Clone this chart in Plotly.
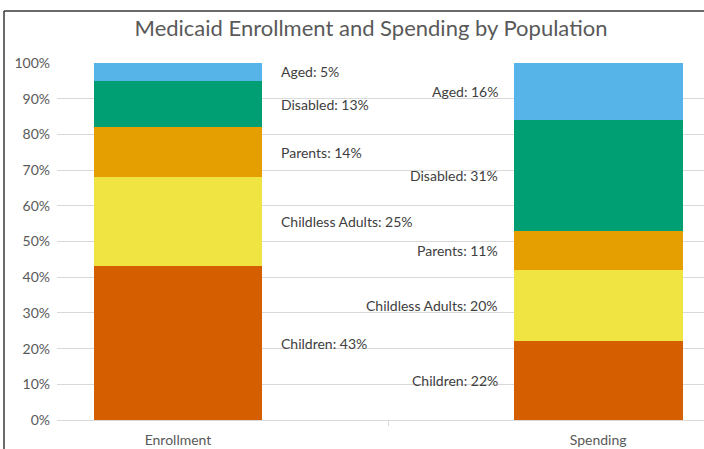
import plotly.graph_objects as go

categories = ["Enrollment", "Spending"]
groups = ["Children", "Childless Adults", "Parents", "Disabled", "Aged"]
enrollment = [43, 25, 14, 13, 5]
spending = [22, 20, 11, 31, 16]
colors = ["#D55E00", "#F0E442", "#E69F00", "#009E73", "#56B4E9"]

FONT = "Lato, Open Sans, sans-serif"

fig = go.Figure()
for i, g in enumerate(groups):
    fig.add_trace(go.Bar(
        x=categories, y=[enrollment[i] / 100, spending[i] / 100],
        name=g, marker=dict(color=colors[i], line=dict(width=0)),
        width=0.402, hoverinfo="skip", showlegend=False,
    ))

annotations = []
for series, xpos, anchor in [(enrollment, 0.240, "left"), (spending, 0.767, "right")]:
    cum = 0
    for g, v in zip(groups, series):
        mid = (cum + v / 2) / 100
        cum += v
        annotations.append(dict(
            x=xpos, y=mid, xref="x", yref="y", text=f"{g}: {v}%",
            showarrow=False, xanchor=anchor, yanchor="middle",
            font=dict(family=FONT, size=14, color="#404040"),
        ))

L, R, T, B = 57, 0, 63, 29
W, H = 704, 449
pw, ph = W - L - R, H - T - B
def px(x):
    return (x - L) / pw
def py(y):
    return (H - B - y) / ph

shapes = [
    dict(type="line", xref="paper", yref="paper", x0=px(4), x1=px(704), y0=py(11), y1=py(11),
         line=dict(color="#3a3a3a", width=1.5)),
    dict(type="line", xref="paper", yref="paper", x0=px(4), x1=px(4), y0=py(11), y1=py(449),
         line=dict(color="#3a3a3a", width=1.5)),
]

fig.update_layout(
    barmode="stack",
    width=W, height=H,
    margin=dict(l=L, r=R, t=T, b=B, pad=0),
    paper_bgcolor="white", plot_bgcolor="white",
    title=dict(text="Medicaid Enrollment and Spending by Population",
               x=371 / W, xanchor="center", y=1 - 28 / H, yanchor="middle",
               font=dict(family=FONT, size=22, color="#595959")),
    xaxis=dict(type="category", range=[-0.288, 1.252], showgrid=False,
               showline=True, linecolor="#d9d9d9", linewidth=1,
               ticks="outside", tickson="boundaries", ticklen=5, tickcolor="#d9d9d9",
               ticklabelstandoff=7,
               tickfont=dict(family=FONT, size=14, color="#595959"),
               fixedrange=True),
    yaxis=dict(range=[0, 1], tickvals=[i / 10 for i in range(11)], tickformat=".0%",
               showgrid=True, gridcolor="#d9d9d9", gridwidth=1, zeroline=False,
               showline=False, ticks="", ticklabelstandoff=6,
               tickfont=dict(family=FONT, size=14, color="#595959"),
               fixedrange=True),
    annotations=annotations,
    shapes=shapes,
    bargap=0,
)

fig.write_html("out.html", config={"displayModeBar": False},
               post_script="document.body.style.margin='0';document.body.style.overflow='hidden';")
